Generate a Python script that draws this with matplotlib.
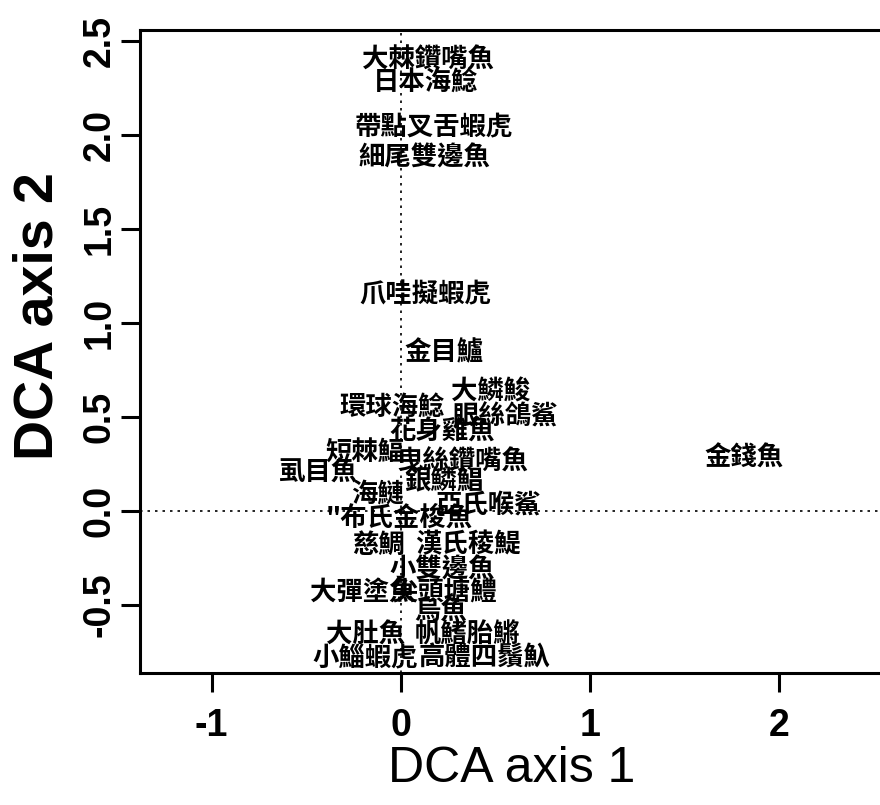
import matplotlib
matplotlib.use("Agg")
import matplotlib.pyplot as plt

# species scores on the first two DCA axes
species = ["大棘鑽嘴魚", "日本海鯰", "帶點叉舌蝦虎", "細尾雙邊魚", "爪哇擬蝦虎",
           "金目鱸", "大鱗鮻", "環球海鯰", "眼絲鴿鯊", "花身雞魚",
           "短棘鰏", "曳絲鑽嘴魚", "虱目魚", "銀鱗鯧", "海鰱",
           "亞氏喉鯊", "\"布氏金梭魚", "慈鯛", "漢氏稜鯷", "小雙邊魚",
           "大彈塗魚", "尖頭塘鱧", "烏魚", "大肚魚", "帆鰭胎鱂",
           "小鯔蝦虎", "高體四鬚魞", "金錢魚"]
dca1 = [0.143, 0.132, 0.175, 0.124, 0.127,
        0.228, 0.472, -0.046, 0.553, 0.219,
        -0.191, 0.324, -0.438, 0.228, -0.122,
        0.461, -0.010, -0.117, 0.354, 0.219,
        -0.201, 0.233, 0.212, -0.186, 0.354,
        -0.186, 0.439, 1.812]
dca2 = [2.399, 2.277, 2.043, 1.878, 1.149,
        0.840, 0.633, 0.553, 0.500, 0.420,
        0.309, 0.261, 0.202, 0.154, 0.085,
        0.032, -0.037, -0.181, -0.181, -0.314,
        -0.436, -0.436, -0.537, -0.660, -0.660,
        -0.782, -0.782, 0.282]

x_ticks = [-1, 0, 1, 2]
y_ticks = [-0.5, 0.0, 0.5, 1.0, 1.5, 2.0, 2.5]

fig = plt.figure(figsize=(8.8, 8.05), dpi=100)
ax = fig.add_axes([0.1591, 0.164, 0.845, 0.799])

ax.axhline(0, color="black", linestyle=(0, (1.5, 3)), linewidth=1.2)
ax.axvline(0, color="black", linestyle=(0, (1.5, 3)), linewidth=1.2)

for name, x, y in zip(species, dca1, dca2):
    ax.text(x, y, name, ha="center", va="center", fontsize=19,
            fontweight="bold", family=["Noto Sans CJK TC", "DejaVu Sans"])

ax.set_xlim(-1.378, 2.55)
ax.set_ylim(-0.862, 2.559)
ax.set_xticks(x_ticks)
ax.set_xticklabels([str(t) for t in x_ticks], fontsize=27, fontweight="bold",
                   family="Liberation Sans")
ax.set_yticks(y_ticks)
ax.set_yticklabels([f"{t:.1f}" for t in y_ticks], fontsize=27, fontweight="bold",
                   family="Liberation Sans", rotation=90, va="center")
ax.tick_params(direction="out", length=14, width=2.2)
ax.tick_params(axis="x", pad=11)
ax.tick_params(axis="y", pad=2)
for s in ax.spines.values():
    s.set_linewidth(2.2)

ax.set_xlabel("DCA axis 1", fontsize=36, family="Liberation Sans", labelpad=2)
ax.set_ylabel("DCA axis 2", fontsize=40, fontweight="bold",
              family="Liberation Sans")
ax.yaxis.set_label_coords(-0.101, 0.555)

fig.savefig("out.png", dpi=100)
